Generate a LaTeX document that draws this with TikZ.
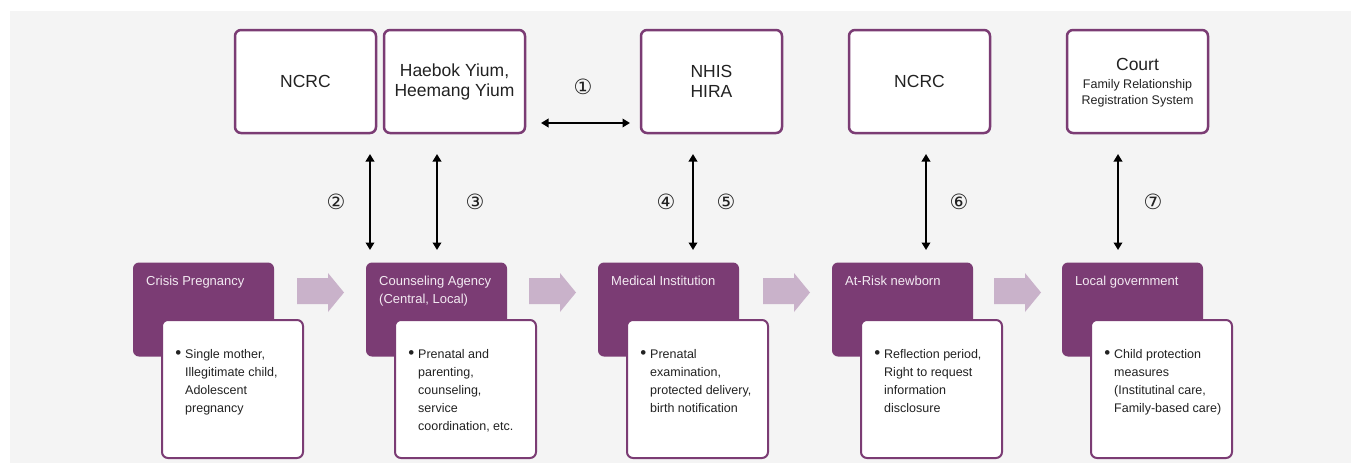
\documentclass[tikz,border=0pt]{standalone}
\usepackage{fontspec}
\setmainfont{Liberation Sans}
\newfontfamily\circfont{DejaVu Sans}
\usetikzlibrary{arrows.meta,calc}
\definecolor{plum}{HTML}{7B3C74}
\definecolor{lilac}{HTML}{C9B2CA}
\definecolor{panel}{HTML}{F4F4F4}
\definecolor{ink}{HTML}{222222}
\definecolor{pale}{HTML}{F3EAF2}

\begin{document}
\begin{tikzpicture}[x=1pt,y=-1pt,
  topbox/.style={draw=plum, line width=2.5pt, fill=white, rounded corners=6pt,
    minimum width=141pt, minimum height=103pt, inner sep=0pt, text=ink,
    align=center, font=\fontsize{17.5}{20}\selectfont},
  stagebox/.style={fill=plum, rounded corners=6pt, minimum width=141pt,
    minimum height=94pt, inner sep=0pt},
  notebox/.style={draw=plum, line width=2pt, fill=white, rounded corners=6pt,
    minimum width=141pt, minimum height=138pt, inner sep=0pt},
  stagetitle/.style={anchor=base west, inner sep=0pt, text=pale,
    font=\fontsize{13}{18}\selectfont},
  notetext/.style={anchor=base west, inner sep=0pt, text=ink,
    font=\fontsize{12.5}{18}\selectfont},
  circnum/.style={inner sep=0pt, text=ink, font=\circfont\fontsize{21}{21}\selectfont},
  link/.style={line width=2pt, {Triangle[length=7.5pt,width=8.5pt]}-{Triangle[length=7.5pt,width=8.5pt]}},
  flowarrow/.style={fill=lilac}
]
% canvas and grey panel
\useasboundingbox (0,0) rectangle (1351,463);
\fill[panel] (10,11) rectangle (1351,463);

% agencies along the top
\node[topbox] (ncrcA) at (305.5,81.5) {NCRC};
\node[topbox] (yium)  at (454.5,81.5) {Haebok Yium,\\Heemang Yium};
\node[topbox] (nhis)  at (711.5,81.5) {NHIS\\HIRA};
\node[topbox] (ncrcB) at (919.5,81.5) {NCRC};
\node[topbox] (court) at (1137.5,81.5)
  {\parbox{140pt}{\centering\vspace*{3pt}Court\\[1pt]
   \fontsize{12.5}{16.5}\selectfont Family Relationship\\Registration System}};

% stages along the bottom
\node[stagebox] (s1) at (203.5,309.5) {};
\node[stagebox] (s2) at (436.5,309.5) {};
\node[stagebox] (s3) at (668.5,309.5) {};
\node[stagebox] (s4) at (902.5,309.5) {};
\node[stagebox] (s5) at (1132.5,309.5) {};

\node[notebox] (n1) at (232.5,389) {};
\node[notebox] (n2) at (465.5,389) {};
\node[notebox] (n3) at (697.5,389) {};
\node[notebox] (n4) at (931.5,389) {};
\node[notebox] (n5) at (1161.5,389) {};

% stage titles
\node[stagetitle] (s1t) at (146,285) {Crisis Pregnancy};
\node[stagetitle] (s2t) at (379,285) {\parbox[t]{130pt}{Counseling Agency\\(Central, Local)}};
\node[stagetitle] (s3t) at (611,285) {Medical Institution};
\node[stagetitle] (s4t) at (845,285) {At-Risk newborn};
\node[stagetitle] (s5t) at (1075,285) {Local government};

% bullet notes
\newcommand{\bul}{\leavevmode\llap{\raisebox{-0.5pt}{\fontsize{17}{18}\selectfont\textbullet}\hspace{4pt}}}
\node[notetext] (n1t) at (185,358) {\parbox[t]{120pt}{\bul Single mother,\\Illegitimate child,\\Adolescent\\pregnancy}};
\node[notetext] (n2t) at (418,358) {\parbox[t]{120pt}{\bul Prenatal and\\parenting,\\counseling,\\service\\coordination, etc.}};
\node[notetext] (n3t) at (650,358) {\parbox[t]{120pt}{\bul Prenatal\\examination,\\protected delivery,\\birth notification}};
\node[notetext] (n4t) at (884,358) {\parbox[t]{120pt}{\bul Reflection period,\\Right to request\\information\\disclosure}};
\node[notetext] (n5t) at (1114,358) {\parbox[t]{120pt}{\bul Child protection\\measures\\(Institutinal care,\\Family-based care)}};

% flow arrows between stages
\foreach \x in {297,529,763,994}
  \fill[flowarrow] (\x,278) -- ++(31,0) -- ++(0,-5) -- ++(16,19.5)
    -- ++(-16,19.5) -- ++(0,-8) -- ++(-31,0) -- cycle;

% information links
\coordinate (l1a) at (541,123);  \coordinate (l1b) at (630,123);
\coordinate (l2a) at (370,154);  \coordinate (l2b) at (370,250);
\coordinate (l3a) at (437,154);  \coordinate (l3b) at (437,250);
\coordinate (l4a) at (693,154);  \coordinate (l4b) at (693,250);
\coordinate (l6a) at (926,154);  \coordinate (l6b) at (926,250);
\coordinate (l7a) at (1118,154); \coordinate (l7b) at (1118,250);
\draw[link] (l1a) -- (l1b);
\draw[link] (l2a) -- (l2b);
\draw[link] (l3a) -- (l3b);
\draw[link] (l4a) -- (l4b);
\draw[link] (l6a) -- (l6b);
\draw[link] (l7a) -- (l7b);

% link numbers
\node[circnum] (c1) at (583,87)  {①};
\node[circnum] (c2) at (336,202) {②};
\node[circnum] (c3) at (475,202) {③};
\node[circnum] (c4) at (666,202) {④};
\node[circnum] (c5) at (726,202) {⑤};
\node[circnum] (c6) at (959,202) {⑥};
\node[circnum] (c7) at (1153,202) {⑦};
\end{tikzpicture}
\end{document}
